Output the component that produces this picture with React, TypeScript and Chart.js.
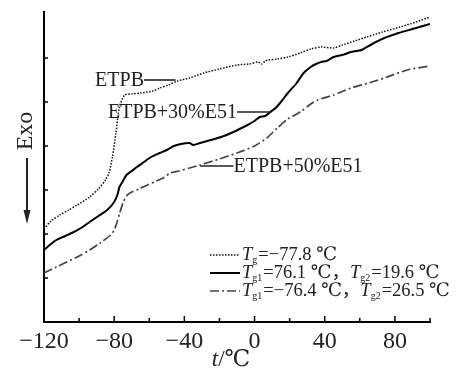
import React, { useEffect, useRef } from "react";
import { Chart, registerables } from "chart.js";

Chart.register(...registerables);

// ---- data (t in °C, heat-flow in arbitrary units, Exo down) ----
const etpbT = [-120, -116, -111, -106, -101, -94, -89, -85, -83, -81, -79, -77, -74, -70, -65, -58, -54, -49, -44, -37, -29, -20, -10, -3, 2, 4, 6, 8, 13, 19, 26, 32, 38, 45, 50, 57, 64, 73, 83, 92, 100];
const etpbY = [93, 101, 107, 112, 117, 125, 133, 142, 149, 165, 189, 215, 227, 228, 229, 231, 234, 237, 241, 244, 249, 253, 257, 258, 260, 258, 261, 262, 263, 265, 269, 273, 275, 274, 277, 281, 285, 290, 295, 300, 305];

const e30T = [-120, -116, -113, -108, -103, -98, -94, -89, -84, -80, -78, -77, -75, -73, -70, -67, -63, -59, -54, -50, -46, -42, -37, -35, -31, -25, -19, -12, -4, 0, 3, 6, 9, 12, 15, 19, 24, 28, 32, 35, 38, 41, 45, 50, 55, 58, 61, 67, 74, 82, 90, 100];
const e30Y = [72, 78, 82, 86, 90, 95, 100, 106, 112, 120, 128, 135, 141, 147, 151, 155, 160, 165, 169, 172, 176, 178, 179, 177, 179, 182, 185, 190, 197, 201, 205, 206, 210, 214, 220, 229, 239, 249, 255, 258, 260, 261, 265, 267, 270, 271, 272, 278, 284, 289, 293, 298];

const e50T = [-120, -113, -107, -100, -94, -88, -82, -80, -78.5, -77, -75, -73, -71, -66, -61, -56, -52, -48, -43, -37, -31, -20, -10, 0, 7, 13, 19, 26, 32, 36, 45, 55, 65, 74, 87, 100];
const e50Y = [49, 55, 60, 66, 72, 79, 87, 92, 99, 108, 119, 126, 129, 133, 137, 141, 144, 149, 151, 154, 157, 163, 169, 176, 184, 194, 203, 210, 218, 222, 227, 234, 239, 244, 252, 256];

const xTicks = [-120, -100, -80, -60, -40, -20, 0, 20, 40, 60, 80, 100];
const xLabeled = [-120, -80, -40, 0, 40, 80];
const yTicks = [44, 88, 132, 176, 220, 264];

const seriesNames = ["ETPB", "ETPB+30%E51", "ETPB+50%E51"];
const legendRows = [
  [["T", "i"], ["g", "s"], ["=−77.8 ℃", "n"]],
  [["T", "i"], ["g1", "s"], ["=76.1 ℃，", "n"], ["T", "i"], ["g2", "s"], ["=19.6 ℃", "n"]],
  [["T", "i"], ["g1", "s"], ["=−76.4 ℃，", "n"], ["T", "i"], ["g2", "s"], ["=26.5 ℃", "n"]],
];

const SERIF = '"Liberation Serif", "DejaVu Serif", "Noto Sans CJK SC", serif';
const TXT = "#222";
const dashes = [[1.5, 1.5], [], [9, 3, 2, 3]];
const colors = ["#111", "#000", "#444"];
const widths = [1.5, 2, 1.7];

const toPts = (t: number[], y: number[]) => t.map((v, i) => ({ x: v, y: y[i] }));

const decor = {
  id: "decor",
  afterDraw(chart: any) {
    const ctx = chart.ctx as CanvasRenderingContext2D;
    const xs = chart.scales.x;
    const ys = chart.scales.y;
    const ca = chart.chartArea;
    ctx.save();
    ctx.strokeStyle = "#000";
    ctx.lineWidth = 1.5;
    ctx.setLineDash([]);
    // inner ticks x
    xTicks.forEach((v) => {
      const px = xs.getPixelForValue(v);
      const len = xLabeled.includes(v) ? 6 : 4;
      ctx.beginPath();
      ctx.moveTo(px, ca.bottom);
      ctx.lineTo(px, ca.bottom - len);
      ctx.stroke();
    });
    yTicks.forEach((v) => {
      const py = ys.getPixelForValue(v);
      ctx.beginPath();
      ctx.moveTo(ca.left, py);
      ctx.lineTo(ca.left + 4, py);
      ctx.stroke();
    });

    // Exo label + arrow
    ctx.fillStyle = TXT;
    ctx.save();
    ctx.translate(26, 131);
    ctx.rotate(-Math.PI / 2);
    ctx.font = `24px ${SERIF}`;
    ctx.textAlign = "center";
    ctx.textBaseline = "middle";
    ctx.fillText("Exo", 0, 0);
    ctx.restore();
    ctx.strokeStyle = "#222";
    ctx.lineWidth = 2;
    ctx.beginPath();
    ctx.moveTo(27, 158);
    ctx.lineTo(27, 214);
    ctx.stroke();
    ctx.beginPath();
    ctx.moveTo(23.5, 210);
    ctx.lineTo(30.5, 210);
    ctx.lineTo(27, 224);
    ctx.closePath();
    ctx.fill();

    // x title
    ctx.textBaseline = "middle";
    ctx.textAlign = "left";
    ctx.font = `italic 23px ${SERIF}`;
    const tW = ctx.measureText("t").width;
    ctx.font = `23px ${SERIF}`;
    const rW = ctx.measureText("/℃").width;
    const cx = 231;
    let sx = cx - (tW + rW) / 2;
    ctx.font = `italic 23px ${SERIF}`;
    ctx.fillText("t", sx, 360);
    ctx.font = `23px ${SERIF}`;
    ctx.fillText("/℃", sx + tW, 360);

    // annotations with leader lines
    ctx.font = `20px ${SERIF}`;
    ctx.strokeStyle = "#222";
    ctx.lineWidth = 1.6;
    const ann = [
      { name: seriesNames[0], t0: -63, t1: -45, v: 242, side: "left" },
      { name: seriesNames[1], t0: -10, t1: 9, v: 210, side: "left" },
      { name: seriesNames[2], t0: -31, t1: -12, v: 156, side: "right" },
    ];
    ann.forEach((a) => {
      const x0 = xs.getPixelForValue(a.t0);
      const x1 = xs.getPixelForValue(a.t1);
      const py = ys.getPixelForValue(a.v);
      ctx.beginPath();
      ctx.moveTo(x0, py);
      ctx.lineTo(x1, py);
      ctx.stroke();
      if (a.side === "left") {
        ctx.textAlign = "right";
        ctx.fillText(a.name, x0, py + 1);
      } else {
        ctx.textAlign = "left";
        ctx.fillText(a.name, x1, py + 1);
      }
    });

    // legend
    const rowsY = [255, 273, 291];
    legendRows.forEach((row, i) => {
      const y = rowsY[i];
      ctx.save();
      ctx.strokeStyle = colors[i];
      ctx.lineWidth = widths[i];
      ctx.setLineDash(dashes[i]);
      ctx.beginPath();
      ctx.moveTo(210, y);
      ctx.lineTo(240, y);
      ctx.stroke();
      ctx.restore();
      let x = 242;
      ctx.textAlign = "left";
      ctx.textBaseline = "middle";
      row.forEach(([txt, kind]) => {
        if (kind === "i") {
          ctx.font = `italic 18.5px ${SERIF}`;
          ctx.fillText(txt, x, y);
        } else if (kind === "s") {
          ctx.font = `10px ${SERIF}`;
          ctx.fillText(txt, x, y + 5);
        } else {
          ctx.font = `18.5px ${SERIF}`;
          ctx.fillText(txt, x, y);
        }
        x += ctx.measureText(txt).width + (kind === "s" ? 1 : 0);
      });
    });
    ctx.restore();
  },
};

export default function App() {
  const ref = useRef<HTMLCanvasElement | null>(null);
  useEffect(() => {
    if (!ref.current) return;
    const fmt = (v: number) => (v < 0 ? "\u2212" + Math.abs(v) : String(v));
    const chart = new Chart(ref.current, {
      type: "line",
      data: {
        datasets: [
          { label: seriesNames[0], data: toPts(etpbT, etpbY) },
          { label: seriesNames[1], data: toPts(e30T, e30Y) },
          { label: seriesNames[2], data: toPts(e50T, e50Y) },
        ].map((d, i) => ({
          ...d,
          borderColor: colors[i],
          borderWidth: widths[i],
          borderDash: dashes[i],
          pointRadius: 0,
          tension: 0.25,
          fill: false,
        })),
      },
      options: {
        animation: false,
        responsive: false,
        devicePixelRatio: 1,
        layout: { padding: { left: 0, top: 12, right: 32, bottom: 0 } },
        plugins: { legend: { display: false }, tooltip: { enabled: false } },
        scales: {
          x: {
            type: "linear",
            min: -120,
            max: 100,
            afterBuildTicks: (s: any) => {
              s.ticks = xTicks.map((v) => ({ value: v }));
            },
            afterFit: (s: any) => {
              s.height = 48;
            },
            grid: { display: false, drawTicks: false },
            border: { display: true, color: "#000", width: 2 },
            ticks: {
              font: { family: SERIF, size: 24 },
              color: TXT,
              padding: 5,
              maxRotation: 0,
              autoSkip: false,
              callback: (v: any) => (xLabeled.includes(Number(v)) ? fmt(Number(v)) : ""),
            },
          },
          y: {
            type: "linear",
            min: 0,
            max: 310,
            afterBuildTicks: (s: any) => {
              s.ticks = yTicks.map((v) => ({ value: v }));
            },
            afterFit: (s: any) => {
              s.width = 44;
            },
            grid: { display: false, drawTicks: false },
            border: { display: true, color: "#000", width: 2 },
            ticks: { display: false },
          },
        },
      },
      plugins: [decor],
    } as any);
    return () => chart.destroy();
  }, []);
  return (
    <div style={{ position: "absolute", left: 0, top: 0, width: 462, height: 370, background: "#fff" }}>
      <canvas ref={ref} width={462} height={370} style={{ display: "block" }} />
    </div>
  );
}
